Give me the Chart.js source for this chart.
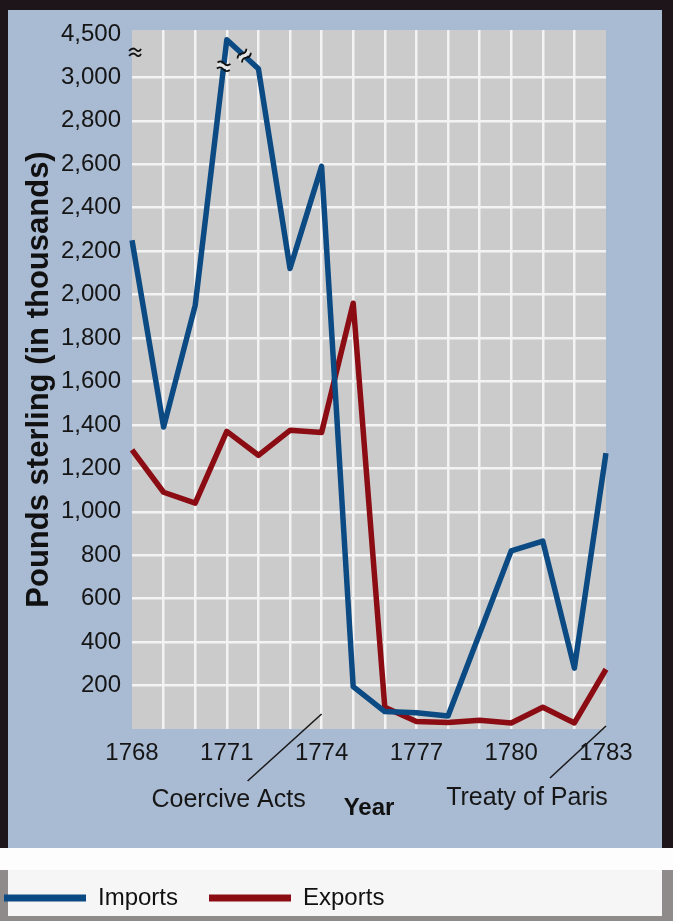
<!DOCTYPE html>
<html>
<head>
<meta charset="utf-8">
<title>Colonial trade with Britain, 1768-1783</title>
<script src="https://cdn.jsdelivr.net/npm/chart.js@4.4.1/dist/chart.umd.min.js"></script>
<style>
  html, body { margin: 0; padding: 0; }
  body { width: 673px; height: 921px; position: relative; overflow: hidden; background: #8f8b8b; }
  .frame { position: absolute; left: 0; top: 0; width: 673px; height: 848px; background: #1d1519; }
  .panel { position: absolute; left: 8px; top: 10px; width: 654px; height: 838px; background: #a9bad3; }
  .strip { position: absolute; left: 0; top: 848px; width: 673px; height: 22px; background: #fdfdfd; }
  .legend-box { position: absolute; left: 8px; top: 870px; width: 654px; height: 46px; background: #f6f6f6; }
  #chart { position: absolute; left: 0; top: 0; }
</style>
</head>
<body>
<div class="frame"></div>
<div class="panel"></div>
<div class="strip"></div>
<div class="legend-box"></div>
<canvas id="chart" width="673" height="921"></canvas>
<script>
// values in thousands of pounds sterling
const years = ['1768', '1769', '1770', '1771', '1772', '1773', '1774', '1775',
               '1776', '1777', '1778', '1779', '1780', '1781', '1782', '1783'];
const xTickLabels = ['1768', '1771', '1774', '1777', '1780', '1783'];
const importsValues = [2250, 1390, 1950, 4300, 3300, 2120, 2590, 195, 80, 75, 60, 440, 820, 865, 280, 1270];
const exportsValues = [1285, 1090, 1040, 1370, 1260, 1375, 1365, 1960, 100, 35, 30, 40, 28, 100, 28, 275];
const yTickValues = [200, 400, 600, 800, 1000, 1200, 1400, 1600, 1800, 2000,
                     2200, 2400, 2600, 2800, 3000, 4500];
const yTickLabels = ['200', '400', '600', '800', '1,000', '1,200', '1,400', '1,600', '1,800', '2,000',
                     '2,200', '2,400', '2,600', '2,800', '3,000', '4,500'];
const annotationLabels = ['Coercive Acts', 'Treaty of Paris'];
const annotationYears = ['1774', '1783'];

// broken axis: 3,000 - 4,500 squeezed into one 200 step
const toAxis = v => v <= 3000 ? v : 3000 + (v - 3000) * 200 / 1500;

const FONT = 'Liberation Sans';
const BLUE = '#0b4a82';
const RED = '#8c0c14';
const GRID = '#f3f3f3';

const backdrop = {
    id: 'backdrop',
    beforeDraw(chart) {
        const { ctx, chartArea: a } = chart;
        ctx.save();
        ctx.fillStyle = '#cbcbcb';
        ctx.fillRect(a.left, a.top, a.right - a.left, a.bottom - a.top);
        ctx.restore();
    }
};

const breaks = {
    id: 'breaks',
    afterDatasetsDraw(chart) {
        const { ctx } = chart;
        const mark = (x, y, ang, len) => {
            ctx.save();
            ctx.translate(x, y);
            ctx.rotate(ang);
            ctx.fillStyle = '#e6e6e6';
            ctx.fillRect(-len / 2, -2.5, len, 5);
            ctx.strokeStyle = '#111';
            ctx.lineWidth = 1.8;
            [-3, 3].forEach(o => {
                ctx.beginPath();
                ctx.moveTo(-len / 2, o);
                ctx.quadraticCurveTo(-len / 4, o - 3, 0, o);
                ctx.quadraticCurveTo(len / 4, o + 3, len / 2, o);
                ctx.stroke();
            });
            ctx.restore();
        };
        // on the imports line, either side of the 1771 peak
        const pts = chart.getDatasetMeta(0).data;
        [[2, 0.9], [3, 0.55]].forEach(([i, t]) => {
            const p = pts[i], q = pts[i + 1];
            const x = p.x + (q.x - p.x) * t;
            const y = p.y + (q.y - p.y) * t;
            const ang = Math.atan2(q.y - p.y, q.x - p.x) + Math.PI / 2;
            mark(x, y, ang, 13);
        });
        // on the y axis
        const ys = chart.scales.y;
        const yb = ys.getPixelForValue(3000) - 25;
        ctx.save();
        ctx.strokeStyle = '#111';
        ctx.lineWidth = 1.8;
        [-2.5, 2.5].forEach(o => {
            ctx.beginPath();
            ctx.moveTo(129, yb + o + 1);
            ctx.quadraticCurveTo(133, yb + o - 3, 136, yb + o);
            ctx.quadraticCurveTo(139, yb + o + 3, 141, yb + o - 1);
            ctx.stroke();
        });
        ctx.restore();
    }
};

const notes = {
    id: 'notes',
    afterDraw(chart) {
        const { ctx, chartArea: a, scales: { x } } = chart;
        const geo = [
            { x1: 0, y1: -15, x2: -74, y2: 52, tx: -93, ty: 71 },
            { x1: 0, y1: -3, x2: -56, y2: 49, tx: -79, ty: 69 }
        ];
        ctx.save();
        ctx.strokeStyle = '#1a1a1a';
        ctx.fillStyle = '#161616';
        ctx.lineWidth = 1.6;
        ctx.font = `25px "${FONT}"`;
        ctx.textAlign = 'center';
        ctx.textBaseline = 'middle';
        annotationLabels.forEach((label, i) => {
            const px = x.getPixelForValue(years.indexOf(annotationYears[i]));
            const g = geo[i];
            ctx.beginPath();
            ctx.moveTo(px + g.x1, a.bottom + g.y1);
            ctx.lineTo(px + g.x2, a.bottom + g.y2);
            ctx.stroke();
            ctx.fillText(label, px + g.tx, a.bottom + g.ty);
        });
        ctx.restore();
    }
};

new Chart(document.getElementById('chart'), {
    type: 'line',
    data: {
        labels: years,
        datasets: [
            {
                label: 'Imports',
                data: importsValues.map(toAxis),
                borderColor: BLUE,
                backgroundColor: BLUE,
                borderWidth: 5.5,
                borderJoinStyle: 'round',
                pointRadius: 0,
                tension: 0
            },
            {
                label: 'Exports',
                data: exportsValues.map(toAxis),
                borderColor: RED,
                backgroundColor: RED,
                borderWidth: 5.5,
                borderJoinStyle: 'round',
                pointRadius: 0,
                tension: 0
            }
        ]
    },
    options: {
        responsive: false,
        animation: false,
        layout: { padding: { left: -27, top: 30, right: 67, bottom: 1 } },
        plugins: {
            legend: {
                position: 'bottom',
                align: 'start',
                labels: {
                    boxWidth: 82,
                    boxHeight: 7,
                    padding: 31,
                    color: '#111',
                    font: { family: FONT, size: 24 },
                    generateLabels: chart => Chart.defaults.plugins.legend.labels.generateLabels(chart)
                        .map(l => ({ ...l, lineWidth: 0 }))
                }
            },
            tooltip: { enabled: false }
        },
        scales: {
            x: {
                grid: {
                    color: c => (c.index === 0 || c.index === years.length - 1) ? 'transparent' : GRID,
                    lineWidth: 2.5,
                    drawTicks: false
                },
                border: { display: false },
                ticks: {
                    autoSkip: false,
                    maxRotation: 0,
                    padding: 10,
                    color: '#151515',
                    font: { family: FONT, size: 24 },
                    callback: (v, i) => xTickLabels.includes(years[i]) ? years[i] : ''
                },
                title: {
                    display: true,
                    text: 'Year',
                    color: '#111',
                    font: { family: FONT, size: 24, weight: 'bold', lineHeight: 1 },
                    padding: { top: 0, bottom: 35 }
                },
                afterFit: s => { s.height = 126; }
            },
            y: {
                min: 0,
                max: 3218,
                afterBuildTicks: s => { s.ticks = yTickValues.map(v => ({ value: toAxis(v) })); },
                grid: {
                    color: c => c.tick && c.tick.value <= 3000 ? GRID : 'transparent',
                    lineWidth: 2.5,
                    drawTicks: false
                },
                border: { display: false },
                ticks: {
                    padding: 11,
                    color: '#151515',
                    font: { family: FONT, size: 24 },
                    callback: (v, i) => yTickLabels[i]
                },
                title: {
                    display: true,
                    text: 'Pounds sterling (in thousands)',
                    color: '#111',
                    font: { family: FONT, size: 31, weight: 'bold', lineHeight: 1.2 },
                    padding: { top: 48, bottom: 0 }
                },
                afterFit: s => { s.width = 159; }
            }
        }
    },
    plugins: [backdrop, breaks, notes]
});
</script>
</body>
</html>
